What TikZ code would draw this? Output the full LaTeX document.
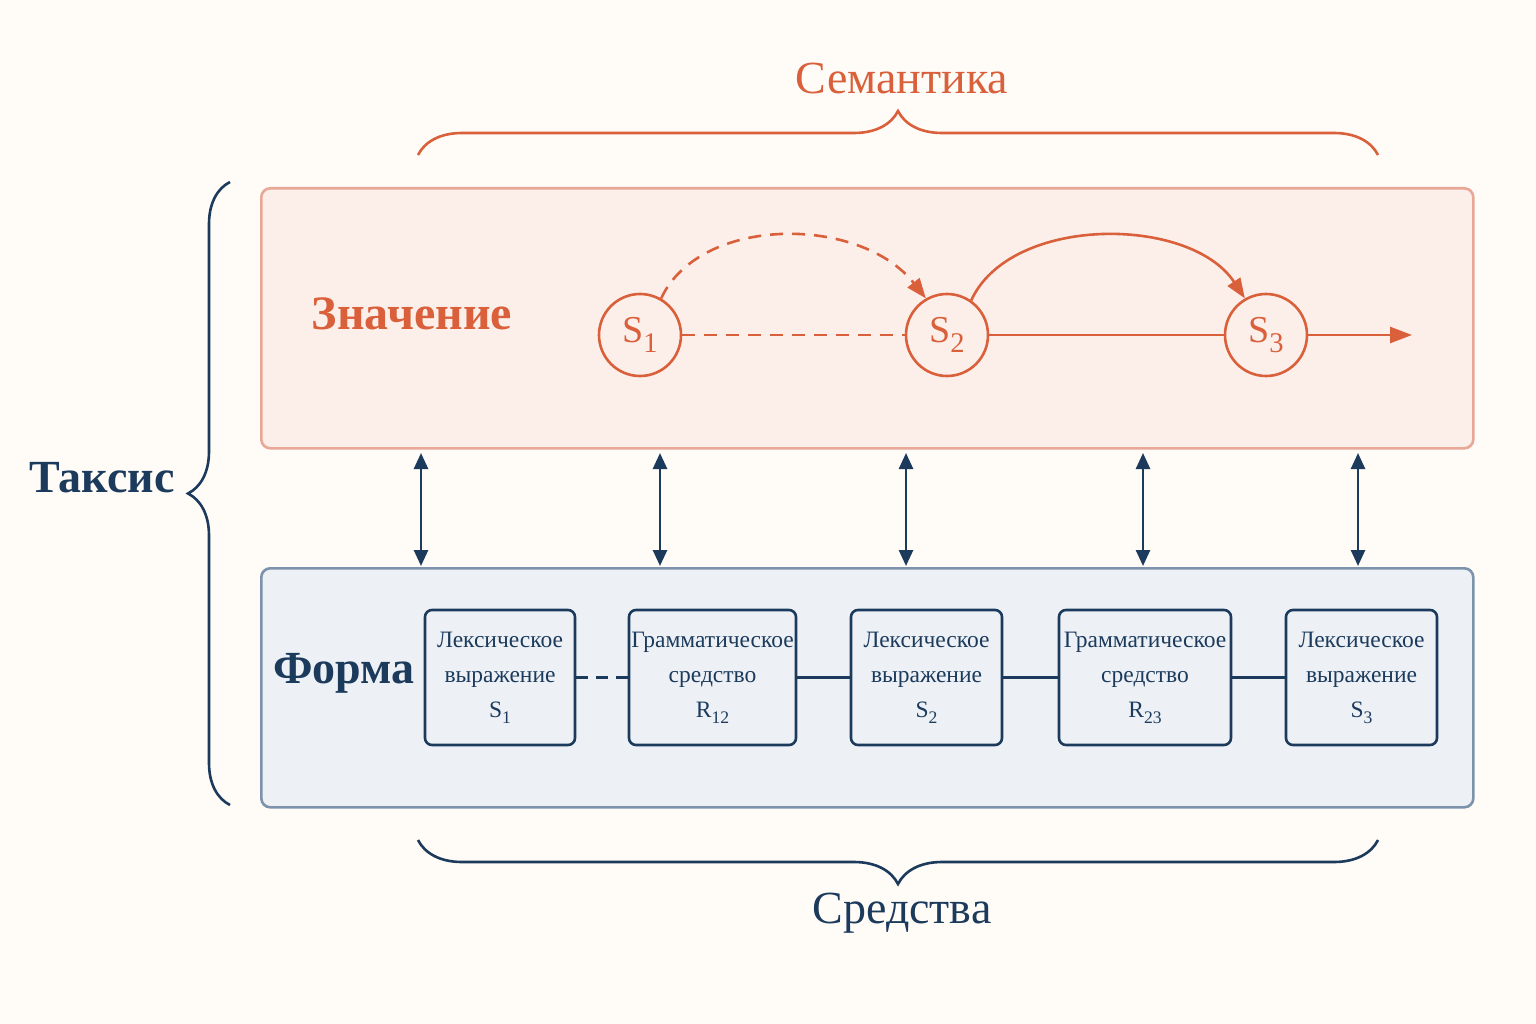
\documentclass[tikz,border=0pt]{standalone}
\usepackage{fontspec}
\setmainfont{Liberation Serif}
\usetikzlibrary{arrows.meta,decorations.pathreplacing}
\definecolor{org}{HTML}{D9603A}
\definecolor{navy}{HTML}{1B3A5C}
\definecolor{pinkf}{HTML}{FCEFEA}
\definecolor{pinkd}{HTML}{E8A898}
\definecolor{bluef}{HTML}{EDF1F5}
\definecolor{blued}{HTML}{7D93AB}
\newcommand{\mysub}[1]{\raisebox{-0.25em}{\fontsize{0.75em}{1em}\selectfont #1}}
\begin{document}
\begin{tikzpicture}[x=1pt,y=-1pt,
  circ/.style={circle,draw=org,line width=2.6pt,fill=pinkf,minimum size=82pt,inner sep=0pt,text=org,font=\fontsize{38}{40}\selectfont},
  bx/.style={draw=navy,line width=2.6pt,rounded corners=7pt,fill=bluef,align=center,font=\fontsize{23.5}{35}\selectfont,text=navy,inner sep=0pt},
  oline/.style={org,line width=2.6pt},
  nline/.style={navy,line width=2.6pt},
  dbl/.style={navy,line width=2.6pt,{Triangle[length=16pt,width=14pt]}-{Triangle[length=16pt,width=14pt]}},
  brc/.style={decorate,decoration={brace,amplitude=44pt},line width=2.6pt}]
\fill[color=orange!3] (0,0) rectangle (1536,1024);
\useasboundingbox (0,0) rectangle (1536,1024);
% boxes
\node[draw=pinkd,fill=pinkf,line width=2.6pt,rounded corners=9pt,minimum width=1212pt,minimum height=260pt,anchor=north west] (top) at (260,187) {};
\node[draw=blued,fill=bluef,line width=2.6pt,rounded corners=9pt,minimum width=1212pt,minimum height=239pt,anchor=north west] (bot) at (260,567) {};
% braces
\coordinate (sa) at (418,155); \coordinate (sb) at (1378,155);
\draw[brc,org] (sa) -- (sb);
\node[text=org,font=\fontsize{46}{48}\selectfont] (sem) at (902,78) {Семантика};
\coordinate (ca) at (1378,840); \coordinate (cb) at (418,840);
\draw[brc,navy] (ca) -- (cb);
\node[text=navy,font=\fontsize{46}{48}\selectfont] (sred) at (902,913) {Средства};
\coordinate (ta) at (230,805); \coordinate (tb) at (230,182);
\draw[brc,decoration={amplitude=42pt},navy] (ta) -- (tb);
\node[text=navy,font=\bfseries\fontsize{46}{48}\selectfont] (tax) at (102,478) {Таксис};
\node[text=org,font=\bfseries\fontsize{48}{50}\selectfont] (zn) at (412,314) {Значение};
\node[text=navy,font=\bfseries\fontsize{46}{48}\selectfont] (fo) at (344,673) {Форма};
% circles
\node[circ] (s1) at (640,335) {S\mysub{1}};
\node[circ] (s2) at (947,335) {S\mysub{2}};
\node[circ] (s3) at (1266,335) {S\mysub{3}};
\coordinate (end) at (1412,335);
\draw[oline,dash pattern=on 13pt off 9pt] (s1) -- (s2);
\draw[oline] (s2) -- (s3);
\draw[oline,-{Triangle[length=22pt,width=16pt]}] (s3) -- (end);
\draw[oline,dash pattern=on 13pt off 9pt,-{Triangle[length=20pt,width=15pt]}] (s1.60) .. controls (700,215) and (860,215) .. (s2.120);
\draw[oline,-{Triangle[length=20pt,width=15pt]}] (s2.55) .. controls (1010,215) and (1190,215) .. (s3.120);
% bottom boxes
\node[bx,minimum width=150pt,minimum height=135pt] (b1) at (500,677.5) {Лексическое\\выражение\\S\mysub{1}};
\node[bx,minimum width=167pt,minimum height=135pt] (b2) at (712.5,677.5) {Грамматическое\\средство\\R\mysub{12}};
\node[bx,minimum width=151pt,minimum height=135pt] (b3) at (926.5,677.5) {Лексическое\\выражение\\S\mysub{2}};
\node[bx,minimum width=172pt,minimum height=135pt] (b4) at (1145,677.5) {Грамматическое\\средство\\R\mysub{23}};
\node[bx,minimum width=151pt,minimum height=135pt] (b5) at (1361.5,677.5) {Лексическое\\выражение\\S\mysub{3}};
\draw[nline,dash pattern=on 12pt off 8pt] (b1) -- (b2);
\draw[nline] (b2) -- (b3);
\draw[nline] (b3) -- (b4);
\draw[nline] (b4) -- (b5);
% double arrows
\foreach \x/\n in {421/a,660/b,906/c,1143/d,1358/e}{
  \coordinate (u\n) at (\x,453); \coordinate (l\n) at (\x,566);
  \draw[dbl] (u\n) -- (l\n);
}
\end{tikzpicture}
\end{document}
